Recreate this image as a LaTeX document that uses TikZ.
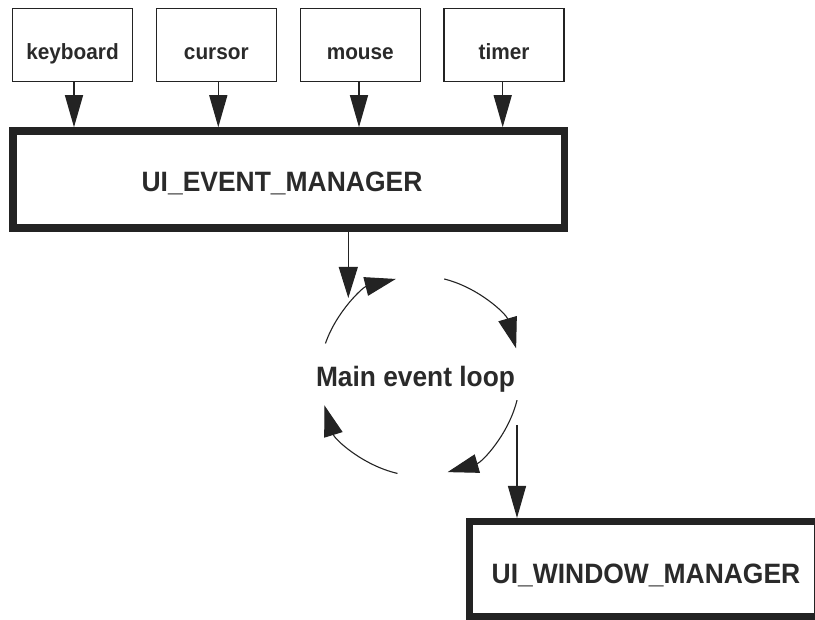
\documentclass[tikz,border=0pt]{standalone}
\usepackage{fontspec}
\setmainfont{Liberation Sans}
\usetikzlibrary{arrows.meta,calc}
\definecolor{ink}{RGB}{35,35,35}
\definecolor{txt}{RGB}{42,42,42}
\newcommand{\lbl}[3]{\scalebox{#1}[1]{\fontsize{#2}{#2}\selectfont\bfseries #3}}
\begin{document}
\begin{tikzpicture}[x=1pt,y=-1pt,
  src/.style={draw=ink, line width=1.2pt, outer sep=0.6pt, minimum width=120pt, minimum height=73.4pt, inner sep=0pt, text height=30pt, text depth=0pt, text=txt},
  big/.style={draw=ink, inner sep=0pt, text=txt},
  feed/.style={draw=ink, line width=1.3pt, -{Triangle[width=18pt,length=32pt]}},
  cyc/.style={draw=ink, line width=1.1pt, -{Triangle[width=19pt,length=31pt]}}]
\clip (0,0) rectangle (815,620);
\useasboundingbox (0,0) rectangle (815,620);
% source boxes
\node[src] (kb) at (72.5,45) {\lbl{0.945}{22}{keyboard}};
\node[src] (cu) at (216.3,45) {\lbl{0.945}{22}{cursor}};
\node[src] (mo) at (360.3,45) {\lbl{0.945}{22}{mouse}};
\node[src] (ti) at (504,45) {\lbl{0.945}{22}{timer}};
% managers
\node[big, line width=7.5pt, outer sep=3.75pt, minimum width=551.5pt, minimum height=97pt, text height=24.4pt, text depth=0pt] (em) at (288.75,179.5) {\lbl{0.945}{28}{UI\_EVENT\_MANAGER}\hspace*{13.5pt}};
\node[big, line width=7pt, outer sep=3.5pt, minimum width=348pt, minimum height=94.5pt, text height=29pt, text depth=0pt] (wm) at (643,568.75) {\hspace*{6pt}\lbl{0.945}{28}{UI\_WINDOW\_MANAGER}};
% loop label
\node[text=txt, anchor=base, inner sep=0pt] (ml) at (415.5,387) {\lbl{0.94}{28}{Main event loop}};
% feeds
\draw[feed] ([xshift=1.5pt]kb.south) -- ([xshift=1.5pt]kb.south |- em.north);
\draw[feed] ([xshift=2pt]cu.south) -- ([xshift=2pt]cu.south |- em.north);
\draw[feed] ([xshift=-1.3pt]mo.south) -- ([xshift=-1.3pt]mo.south |- em.north);
\draw[feed] ([xshift=-1.3pt]ti.south) -- ([xshift=-1.3pt]ti.south |- em.north);
% loop
\coordinate (lc) at (420,376);
\coordinate (lin) at (348.3,298);
\coordinate (lout) at (517,425);
\draw[cyc] (em.south -| lin) -- (lin);
\draw[cyc] ($(lc)+(-161:100)$) arc[start angle=-161, end angle=-104, radius=100];
\draw[cyc] ($(lc)+(-76:100)$) arc[start angle=-76, end angle=-16, radius=100];
\draw[cyc] ($(lc)+(14:100)$) arc[start angle=14, end angle=74, radius=100];
\draw[cyc] ($(lc)+(103:100)$) arc[start angle=103, end angle=163, radius=100];
\draw[feed] (lout) -- (lout |- wm.north);
\end{tikzpicture}
\end{document}
